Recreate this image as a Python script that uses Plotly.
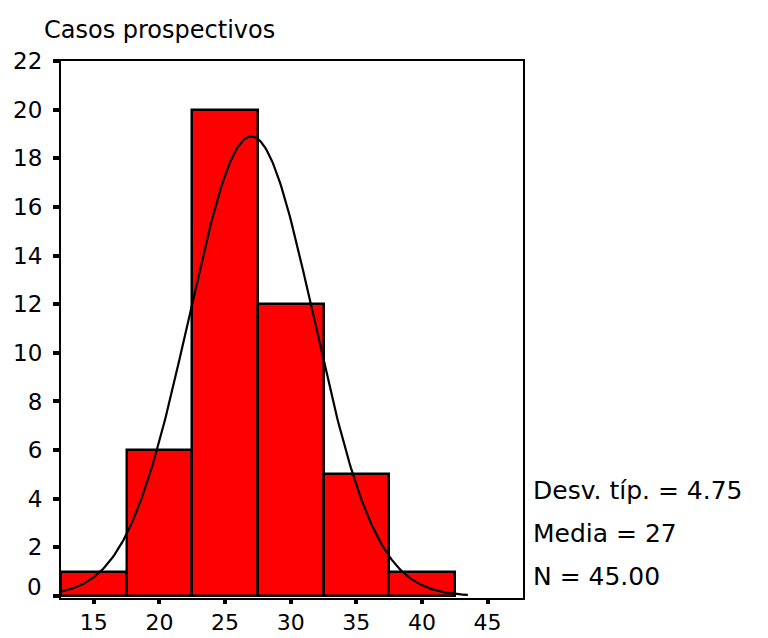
import numpy as np
import plotly.graph_objects as go

# Histogram bins (centres, width 5) and frequencies
bin_centres = [15, 20, 25, 30, 35, 40]
bin_width = 5
counts = [1, 6, 20, 12, 5, 1]

# Summary statistics shown beside the plot
SD = 4.75
MEAN = 27
N = 45

x_ticks = [15, 20, 25, 30, 35, 40, 45]
y_ticks = [0, 2, 4, 6, 8, 10, 12, 14, 16, 18, 20, 22]

# Fitted normal curve, scaled to counts per bin
xc = np.linspace(12.5, 43.5, 300)
yc = N * bin_width / (SD * np.sqrt(2 * np.pi)) * np.exp(-0.5 * ((xc - MEAN) / SD) ** 2)

FONT = "DejaVu Sans, Verdana, sans-serif"

# plot-area pixel geometry
L, R, T, B = 61, 523, 61, 598
W, H = 768, 638

fig = go.Figure()
fig.add_trace(go.Bar(
    x=bin_centres, y=counts, width=bin_width,
    marker=dict(color="#ff0000", line=dict(color="black", width=2.5)),
    hoverinfo="x+y",
))
fig.add_trace(go.Scatter(
    x=xc, y=yc, mode="lines",
    line=dict(color="black", width=2.2),
    hoverinfo="skip",
))

fig.update_layout(
    width=W, height=H,
    margin=dict(l=L, r=W - R, t=T, b=H - B),
    paper_bgcolor="white", plot_bgcolor="white",
    showlegend=False,
    bargap=0,
    font=dict(family=FONT, color="black", size=23),
    title=dict(text="Casos prospectivos", x=44 / W, xanchor="left",
               y=1 - 30 / H, yanchor="middle",
               font=dict(family=FONT, size=24, color="black")),
)
fig.update_xaxes(
    range=[12.5, 47.7], tickvals=x_ticks, showgrid=False, zeroline=False,
    showline=True, linecolor="black", linewidth=2, mirror=True,
    ticks="outside", ticklen=4, tickwidth=4, tickcolor="black",
    ticklabelstandoff=0, tickfont=dict(size=22), automargin=False,
)
# the 0 label sits a little above its tick, so it is drawn separately
fig.update_yaxes(
    range=[-0.08, 22.0], tickvals=y_ticks,
    ticktext=[("" if v == 0 else str(v)) for v in y_ticks],
    showgrid=False, zeroline=False,
    showline=True, linecolor="black", linewidth=2, mirror=True,
    ticks="outside", ticklen=6, tickwidth=4, tickcolor="black",
    ticklabelstandoff=6, tickfont=dict(size=23), automargin=False,
)
fig.add_annotation(
    text="0", xref="paper", yref="paper",
    x=(44 - L) / (R - L), xanchor="right",
    y=(B - 587) / (B - T), yanchor="middle",
    showarrow=False, font=dict(family=FONT, size=23, color="black"),
)

stats = [f"Desv. típ. = {SD:.2f}", f"Media = {MEAN}", f"N = {N:.2f}"]
for i, txt in enumerate(stats):
    fig.add_annotation(
        text=txt, xref="paper", yref="paper",
        x=(531 - L) / (R - L), xanchor="left",
        y=(B - (490 + 43 * i)) / (B - T), yanchor="middle",
        showarrow=False, font=dict(family=FONT, size=25, color="black"),
    )

fig.write_html("out.html")
